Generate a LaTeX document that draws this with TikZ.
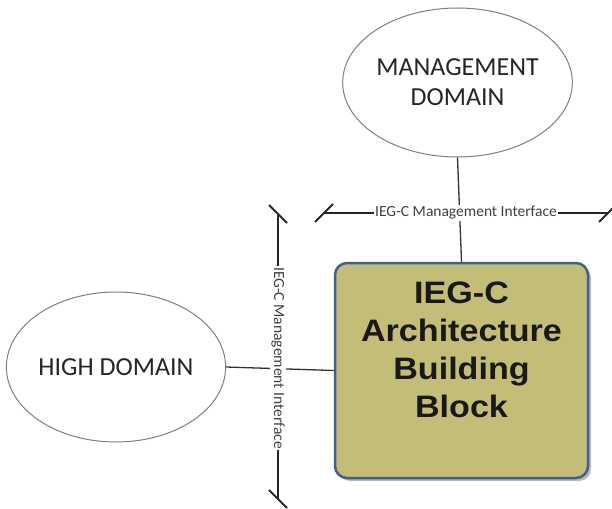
\documentclass[tikz,border=0pt]{standalone}
\usepackage{fontspec}
\setmainfont{Carlito}
\newfontfamily\boxfont[FakeStretch=1.1]{Liberation Sans}
\usetikzlibrary{shapes.geometric,shadows}
\definecolor{olivefill}{HTML}{C3BD77}
\definecolor{boxborder}{HTML}{3F6190}
\definecolor{ellline}{HTML}{7F7F7F}
\tikzset{
  domainell/.style={ellipse, draw=ellline, line width=1pt, fill=white, inner sep=0pt,
    font=\fontsize{26}{30}\selectfont, text=black!85, align=center},
  blockbox/.style={draw=boxborder, line width=2.5pt, fill=olivefill, rounded corners=12pt,
    drop shadow={shadow xshift=3pt, shadow yshift=-3pt, fill=black!45, opacity=0.6}},
  boxtext/.style={font=\boxfont\bfseries\fontsize{31}{38}\selectfont, align=center, text=black!90},
  conn/.style={draw=black!80, line width=1.3pt},
  iface/.style={draw=black!85, line width=1.5pt},
  tickmark/.style={draw=black!85, line width=1.8pt},
  ifacelabel/.style={fill=white, inner sep=1pt, font=\fontsize{15.5}{18}\selectfont, text=black!75}
}
\begin{document}
\begin{tikzpicture}[x=1pt, y=-1pt]
\useasboundingbox[fill=white] (0,0) rectangle (612,508);
% domains
\node[domainell, minimum width=219, minimum height=149] (mgmt) at (457.5,82.5) {MANAGEMENT\\DOMAIN};
\node[domainell, minimum width=208, minimum height=150] (high) at (116,367) {HIGH DOMAIN};
% building block
\node[blockbox, minimum width=253, minimum height=215] (box) at (461.5,370.5) {};
\node[boxtext] (boxlbl) at (461.5,350) {IEG-C\\Architecture\\Building\\Block};
% connectors
\draw[conn] (mgmt.south) -- (box.north);
\draw[conn] (high.east) -- (box.west);
% interfaces
\coordinate (hl) at (324,213);
\coordinate (hr) at (608,213);
\coordinate (vt) at (278,214);
\coordinate (vb) at (278,499);
\draw[iface] (hl) -- node[ifacelabel, pos=0.5] (hlab) {IEG-C Management Interface} (hr);
\draw[iface] (vt) -- node[ifacelabel, rotate=-90, pos=0.505] (vlab) {IEG-C Management Interface} (vb);
\draw[tickmark] ([shift={(-9,9)}]hl) -- ([shift={(9,-9)}]hl);
\draw[tickmark] ([shift={(-9,9)}]hr) -- ([shift={(9,-9)}]hr);
\draw[tickmark] ([shift={(-9,-9)}]vt) -- ([shift={(9,9)}]vt);
\draw[tickmark] ([shift={(-9,-9)}]vb) -- ([shift={(9,9)}]vb);
\end{tikzpicture}
\end{document}
